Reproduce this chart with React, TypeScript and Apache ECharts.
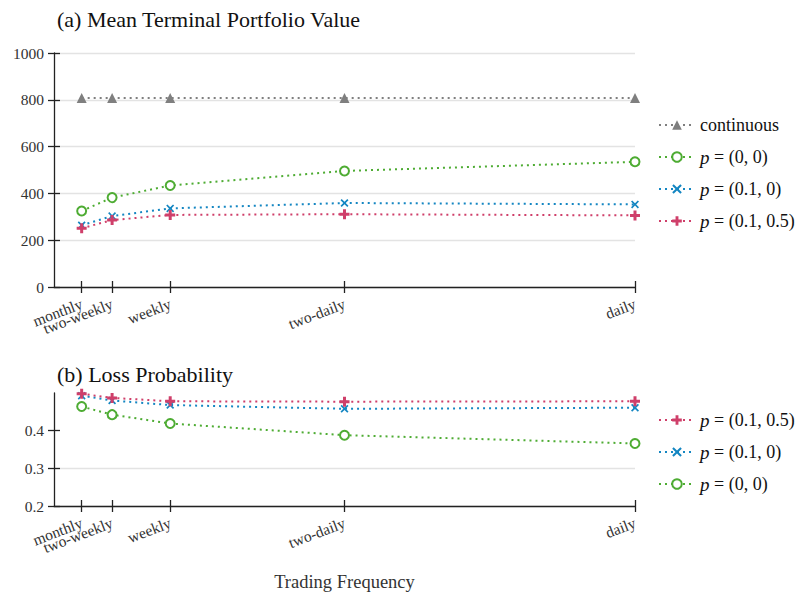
import React, { useEffect, useRef } from "react";
import * as echarts from "echarts";

const freqNames = ["monthly", "two-weekly", "weekly", "two-daily", "daily"];
const freqValues = [12, 25.2, 50.4, 126, 252];

const valueContinuous = [808, 808, 808, 808, 808];
const valueP00 = [325, 382, 434, 496, 535];
const valueP010 = [264, 303, 336, 359, 353];
const valueP0105 = [251, 286, 308, 311, 306];

const lossP0105 = [0.498, 0.487, 0.478, 0.477, 0.478];
const lossP010 = [0.493, 0.480, 0.468, 0.458, 0.461];
const lossP00 = [0.464, 0.4425, 0.419, 0.388, 0.366];

const topTicks = [0, 200, 400, 600, 800, 1000];
const bottomTicks = [0.2, 0.3, 0.4];

const FONT = "Liberation Serif";
const C_GRAY = "#7f7f7f";
const C_GREEN = "#4eac33";
const C_BLUE = "#1486c2";
const C_RED = "#cf3f6a";

const PLUS = "path://M3.5,0H6.5V3.5H10V6.5H6.5V10H3.5V6.5H0V3.5H3.5Z";
const CROSS =
  "path://M1.5,0L5,3.5L8.5,0L10,1.5L6.5,5L10,8.5L8.5,10L5,6.5L1.5,10L0,8.5L3.5,5L0,1.5Z";

const N_CONT = "continuous";
const N_00 = "p = (0, 0)";
const N_010 = "p = (0.1, 0)";
const N_0105 = "p = (0.1, 0.5)";

function pairs(vals: number[]) {
  return freqValues.map((x, i) => [x, vals[i]]);
}

export default function App() {
  const ref = useRef<HTMLDivElement>(null);
  useEffect(() => {
    if (!ref.current) return;
    const chart = echarts.init(ref.current, null, { renderer: "svg" });
    const labelStyle = { fontFamily: FONT, fontSize: 15.5, color: "#333" };
    // main axis: line, outside ticks, labels except the first; overlay axis: inside ticks + first label
    const xBase = (gridIndex: number, inside: boolean, extra: any = {}) => ({
      type: "value",
      gridIndex,
      position: "bottom",
      min: 0,
      max: 252,
      axisLine: { show: !inside, lineStyle: { color: "#222", width: 1.3 } },
      axisTick: {
        show: true,
        inside,
        length: 6,
        customValues: freqValues,
        lineStyle: { color: "#222", width: 1.3 },
      },
      axisLabel: {
        show: true,
        inside: false,
        customValues: inside ? freqValues.slice(0, 1) : freqValues.slice(1),
        hideOverlap: false,
        rotate: 21,
        margin: 16,
        ...labelStyle,
        formatter: (v: number) => {
          const idx = freqValues.findIndex((f) => Math.abs(f - v) < 1e-6);
          return idx >= 0 ? freqNames[idx] : "";
        },
      },
      splitLine: { show: false },
      ...extra,
    });
    const yBase = (
      gridIndex: number,
      inside: boolean,
      min: number,
      max: number,
      interval: number,
      ticks: number[],
      fmt: (v: number) => string
    ) => ({
      type: "value",
      gridIndex,
      position: "left",
      min,
      max,
      interval,
      axisLine: { show: !inside, lineStyle: { color: "#222", width: 1.3 } },
      axisTick: {
        show: true,
        inside,
        length: 6,
        customValues: ticks,
        lineStyle: { color: "#222", width: 1.3 },
      },
      axisLabel: {
        show: !inside,
        customValues: ticks,
        hideOverlap: false,
        margin: 10,
        ...labelStyle,
        formatter: fmt,
      },
      splitLine: {
        show: !inside,
        showMaxLine: max === 1000,
        lineStyle: { color: "#e3e3e3", width: 1.3 },
      },
    });
    const line = (
      name: string,
      data: number[],
      color: string,
      symbol: string,
      size: number,
      idx: number,
      z: number
    ) => ({
      name,
      type: "line",
      xAxisIndex: idx,
      yAxisIndex: idx,
      data: pairs(data),
      symbol,
      symbolSize: size,
      showAllSymbol: true,
      z,
      lineStyle: { color, width: 2, type: [2, 4] },
      itemStyle:
        symbol === "emptyCircle"
          ? { color, borderColor: color, borderWidth: 2.6 }
          : { color },
    });
    const legendFmt = (name: string) =>
      name.startsWith("p ") ? "{i|p}" + name.slice(1) : name;
    const legendBase = {
      orient: "vertical",
      left: 653,
      itemWidth: 36,
      itemHeight: 12,
      itemGap: 10,
      formatter: legendFmt,
      textStyle: {
        fontFamily: FONT,
        fontSize: 18,
        lineHeight: 22,
        color: "#111",
        rich: {
          i: { fontFamily: FONT, fontStyle: "italic", fontSize: 19, lineHeight: 22, color: "#111" },
        },
      },
    };
    chart.setOption({
      animation: false,
      backgroundColor: "#fff",
      title: [
        {
          text: "(a) Mean Terminal Portfolio Value",
          left: 52,
          top: 3,
          textStyle: { fontFamily: FONT, fontSize: 22, fontWeight: "normal", color: "#111" },
        },
        {
          text: "(b) Loss Probability",
          left: 52,
          top: 358,
          textStyle: { fontFamily: FONT, fontSize: 22, fontWeight: "normal", color: "#111" },
        },
      ],
      legend: [
        { ...legendBase, top: 109, data: [N_CONT, N_00, N_010, N_0105] },
        { ...legendBase, top: 404, data: [N_0105, N_010, N_00] },
      ],
      grid: [
        { left: 54, right: 163, top: 53, bottom: 305 },
        { left: 54, right: 163, top: 393, bottom: 82 },
      ],
      xAxis: [
        xBase(0, false),
        xBase(1, false, {
          name: "Trading Frequency",
          nameLocation: "middle",
          nameGap: 66,
          nameTextStyle: { fontFamily: FONT, fontSize: 18.5, color: "#333" },
        }),
        xBase(0, true),
        xBase(1, true),
      ],
      yAxis: [
        yBase(0, false, 0, 1000, 200, topTicks, (v) => String(v)),
        yBase(1, false, 0.2, 0.5, 0.1, bottomTicks, (v) => v.toFixed(1)),
        yBase(0, true, 0, 1000, 200, topTicks, (v) => String(v)),
        yBase(1, true, 0.2, 0.5, 0.1, bottomTicks, (v) => v.toFixed(1)),
      ],
      series: [
        line(N_CONT, valueContinuous, C_GRAY, "triangle", 10, 0, 2),
        line(N_00, valueP00, C_GREEN, "emptyCircle", 9, 0, 3),
        line(N_010, valueP010, C_BLUE, CROSS, 8, 0, 4),
        line(N_0105, valueP0105, C_RED, PLUS, 10, 0, 5),
        line(N_0105, lossP0105, C_RED, PLUS, 10, 1, 5),
        line(N_010, lossP010, C_BLUE, CROSS, 8, 1, 4),
        line(N_00, lossP00, C_GREEN, "emptyCircle", 9, 1, 3),
      ],
    });
    return () => chart.dispose();
  }, []);
  return (
    <div
      ref={ref}
      style={{ position: "fixed", left: 0, top: 0, width: 798, height: 592 }}
    />
  );
}
